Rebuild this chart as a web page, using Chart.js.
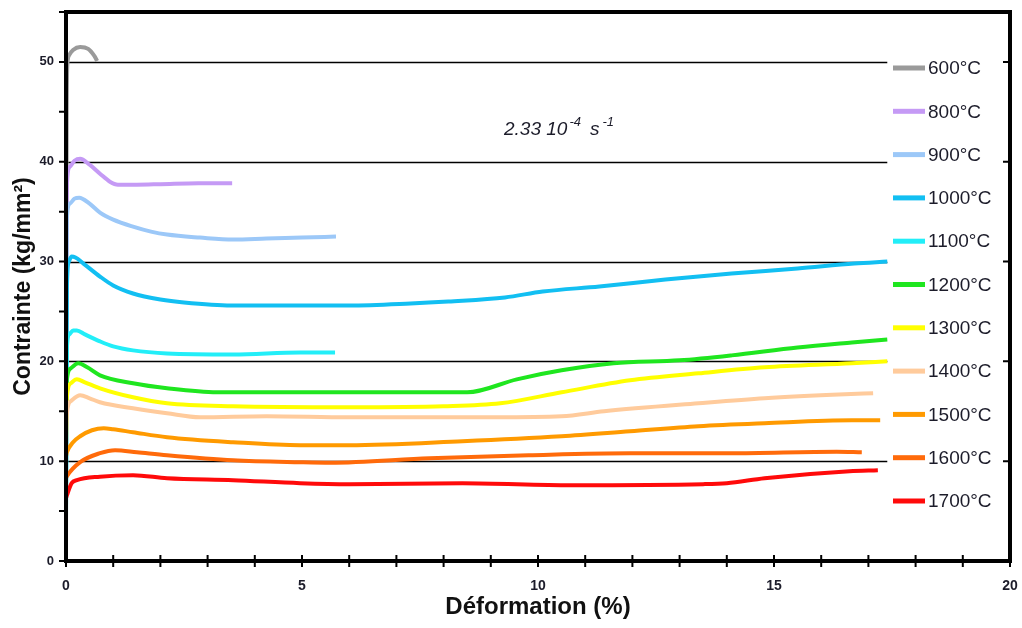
<!DOCTYPE html>
<html>
<head>
<meta charset="utf-8">
<script src="https://cdn.jsdelivr.net/npm/chart.js@4.4.1/dist/chart.umd.min.js"></script>
<style>
  html, body { margin: 0; padding: 0; background: #fff; }
  #wrap { width: 1022px; height: 628px; }
</style>
</head>
<body>
<div id="wrap"><canvas id="chart" width="1022" height="628"></canvas></div>
<script>
// temperatures and colours, one per curve
const temps = ['600°C', '800°C', '900°C', '1000°C', '1100°C', '1200°C', '1300°C', '1400°C', '1500°C', '1600°C', '1700°C'];
const colors = ['#9a9a9a', '#c59af5', '#9cc8f8', '#12bff2', '#22eef8', '#1fe61f', '#ffff00', '#ffcb9c', '#ff9a00', '#ff6a0a', '#ff0a0a'];

// deformation (%) / contrainte (kg/mm2)
const x600 = [0, 0.015, 0.03, 0.07, 0.15, 0.3, 0.47, 0.6, 0.66];
const y600 = [0, 45, 49.8, 50.7, 51.2, 51.5, 51.3, 50.6, 50.1];

const x800 = [0, 0.02, 0.08, 0.18, 0.3, 0.5, 0.72, 0.93, 1.1, 1.5, 2.0, 2.8, 3.52];
const y800 = [24, 37.8, 39.5, 40.1, 40.3, 39.7, 38.8, 38.0, 37.7, 37.7, 37.75, 37.85, 37.85];

const x900 = [0, 0.02, 0.08, 0.18, 0.28, 0.5, 0.72, 1.0, 1.42, 1.8, 2.14, 2.84, 3.54, 4.25, 5.0, 5.72];
const y900 = [20, 34.5, 35.8, 36.3, 36.4, 35.8, 34.9, 34.2, 33.5, 33.0, 32.7, 32.4, 32.2, 32.3, 32.4, 32.5];

const x1000 = [0, 0.02, 0.06, 0.12, 0.2, 0.37, 0.72, 1.0, 1.42, 2.0, 2.5, 3.5, 5.0, 6.0, 7.3, 8.1, 9.3, 10.1, 11.3, 12.7, 14.1, 15.5, 16.7, 17.4];
const y1000 = [5, 27.5, 30.0, 30.5, 30.4, 29.8, 28.5, 27.6, 26.8, 26.2, 25.9, 25.6, 25.6, 25.6, 25.8, 26.0, 26.4, 27.0, 27.5, 28.2, 28.8, 29.3, 29.8, 30.0];

const x1100 = [0, 0.02, 0.07, 0.15, 0.23, 0.4, 0.72, 1.0, 1.42, 2.14, 3.54, 4.96, 5.7];
const y1100 = [4, 21.5, 22.7, 23.1, 23.1, 22.7, 22.0, 21.5, 21.1, 20.8, 20.7, 20.9, 20.9];

const x1200 = [0, 0.02, 0.1, 0.26, 0.45, 0.72, 1.42, 2.14, 3.2, 5.6, 7.5, 8.5, 9.55, 10.5, 11.6, 13.0, 14.1, 15.5, 16.65, 17.4];
const y1200 = [14, 18.2, 19.3, 19.8, 19.4, 18.6, 17.8, 17.3, 16.9, 16.9, 16.9, 16.9, 18.2, 19.1, 19.8, 20.1, 20.6, 21.4, 21.9, 22.2];

const x1300 = [0, 0.02, 0.1, 0.23, 0.4, 0.72, 1.42, 2.14, 3.54, 6.0, 8.0, 9.2, 10.5, 11.95, 13.4, 14.8, 16.65, 17.4];
const y1300 = [12, 16.5, 17.8, 18.2, 17.9, 17.3, 16.4, 15.8, 15.5, 15.4, 15.5, 15.8, 16.9, 18.1, 18.8, 19.4, 19.8, 20.0];

const x1400 = [0, 0.02, 0.1, 0.3, 0.5, 0.72, 1.42, 2.14, 2.84, 4.25, 6.0, 9.1, 10.5, 11.4, 13.4, 14.8, 16.5, 17.1];
const y1400 = [11, 14.8, 16.0, 16.6, 16.3, 15.9, 15.3, 14.8, 14.4, 14.5, 14.4, 14.4, 14.5, 15.0, 15.8, 16.3, 16.7, 16.8];

const x1500 = [0, 0.02, 0.15, 0.3, 0.55, 0.8, 1.0, 1.42, 2.14, 3.54, 4.96, 6.0, 8.4, 10.5, 11.95, 13.4, 14.8, 16.65, 17.25];
const y1500 = [10.5, 10.9, 11.9, 12.5, 13.1, 13.3, 13.2, 12.9, 12.4, 11.9, 11.6, 11.6, 12.0, 12.5, 13.0, 13.5, 13.8, 14.1, 14.1];

const x1600 = [0, 0.02, 0.3, 0.72, 1.04, 1.5, 2.14, 3.54, 4.96, 5.6, 7.7, 9.8, 11.95, 14.07, 16.33, 16.86];
const y1600 = [8.3, 8.5, 9.9, 10.8, 11.1, 10.9, 10.6, 10.1, 9.9, 9.85, 10.3, 10.6, 10.8, 10.8, 10.95, 10.9];

const x1700 = [0, 0.02, 0.12, 0.23, 0.72, 1.42, 2.14, 3.54, 4.96, 6.0, 8.4, 10.7, 13.5, 14.0, 14.8, 16.6, 17.2];
const y1700 = [6.3, 6.6, 7.8, 8.1, 8.45, 8.6, 8.3, 8.1, 7.8, 7.7, 7.8, 7.6, 7.7, 7.8, 8.3, 9.0, 9.1];

const xs = [x600, x800, x900, x1000, x1100, x1200, x1300, x1400, x1500, x1600, x1700];
const ys = [y600, y800, y900, y1000, y1100, y1200, y1300, y1400, y1500, y1600, y1700];

const FONT = 'Arial, "Liberation Sans", sans-serif';
const TEXT = '#1c1c2a';
Chart.defaults.font.family = FONT;

const datasets = temps.map((t, i) => ({
	label: t,
	data: xs[i].map((x, j) => ({ x, y: ys[i][j] })),
	borderColor: colors[i],
	backgroundColor: colors[i],
	borderWidth: 4,
	pointRadius: 0,
	showLine: true,
	cubicInterpolationMode: 'monotone',
	order: temps.length - i
}));

// horizontal grid lines stop short of the legend
const gridPlugin = {
	id: 'grid',
	beforeDatasetsDraw(chart){
		const { ctx, scales: { x, y } } = chart;
		const xEnd = x.getPixelForValue(17.4);
		ctx.save();
		ctx.strokeStyle = '#000';
		ctx.lineWidth = 1.3;
		for(let v = 10; v <= 50; v += 10){
			const py = Math.round(y.getPixelForValue(v)) + 0.5;
			ctx.beginPath(); ctx.moveTo(x.left, py); ctx.lineTo(xEnd, py); ctx.stroke();
		}
		ctx.restore();
	}
};

// axes frame, ticks, legend and the strain-rate note
const framePlugin = {
	id: 'frame',
	afterDatasetsDraw(chart){
		const { ctx, chartArea: a, scales: { x, y } } = chart;
		ctx.save();
		ctx.strokeStyle = '#000';
		ctx.lineWidth = 4;
		ctx.strokeRect(a.left, a.top, a.right - a.left, a.bottom - a.top);

		ctx.lineWidth = 2;
		ctx.beginPath();
		for(let v = 0; v <= 55; v += 5){
			const py = y.getPixelForValue(v);
			ctx.moveTo(a.left - 7, py); ctx.lineTo(a.left, py);
		}
		for(let v = 10; v <= 50; v += 10){
			const py = y.getPixelForValue(v);
			ctx.moveTo(a.right - 7, py); ctx.lineTo(a.right, py);
		}
		for(let v = 0; v <= 20; v += 1){
			const px = x.getPixelForValue(v);
			ctx.moveTo(px, a.bottom - 6); ctx.lineTo(px, a.bottom + 6);
		}
		ctx.stroke();

		// legend
		const lx = 893, ly = 68, step = 43.3;
		ctx.font = '19px ' + FONT;
		ctx.textBaseline = 'middle';
		chart.data.datasets.forEach((d, i) => {
			const py = ly + i * step;
			ctx.fillStyle = d.borderColor;
			ctx.fillRect(lx, py - 2.5, 32, 5);
			ctx.fillStyle = TEXT;
			ctx.fillText(d.label, lx + 35, py + 1);
		});

		// 2.33 10^-4 s^-1
		ctx.textBaseline = 'alphabetic';
		let tx = 504;
		const by = 135;
		const parts = [['2.33 10', 19, 0, 2], ['-4', 13, -9, 9], ['s', 19, 0, 3], ['-1', 13, -9, 0]];
		for(const [txt, size, dy, gap] of parts){
			ctx.font = 'italic ' + size + 'px ' + FONT;
			ctx.fillText(txt, tx, by + dy);
			tx += ctx.measureText(txt).width + gap;
		}
		ctx.restore();
	}
};

new Chart(document.getElementById('chart'), {
	type: 'scatter',
	data: { datasets },
	options: {
		responsive: false,
		animation: false,
		layout: { padding: { left: 0, right: 12, top: 12, bottom: 0 } },
		plugins: { legend: { display: false }, tooltip: { enabled: false } },
		scales: {
			x: {
				type: 'linear', min: 0, max: 20,
				grid: { display: false, drawTicks: false },
				border: { display: false },
				ticks: { stepSize: 5, padding: 17, color: TEXT, font: { size: 14, weight: 'bold' } },
				title: { display: true, text: 'Déformation (%)', color: '#111', padding: { bottom: 6 }, font: { size: 24, weight: 'bold' } },
				afterFit(s){ s.height = 67; s.paddingLeft = 0; s.paddingRight = 0; }
			},
			y: {
				type: 'linear', min: 0, max: 55,
				grid: { display: false, drawTicks: false },
				border: { display: false },
				ticks: { stepSize: 10, padding: 12, color: TEXT, font: { size: 13, weight: 'bold' }, callback: v => v % 10 === 0 ? v : '' },
				title: { display: true, text: 'Contrainte (kg/mm²)', color: '#111', padding: { top: 10 }, font: { size: 23, weight: 'bold' } },
				afterFit(s){ s.width = 66; s.paddingTop = 0; s.paddingBottom = 0; }
			}
		}
	},
	plugins: [gridPlugin, framePlugin]
});
</script>
</body>
</html>
